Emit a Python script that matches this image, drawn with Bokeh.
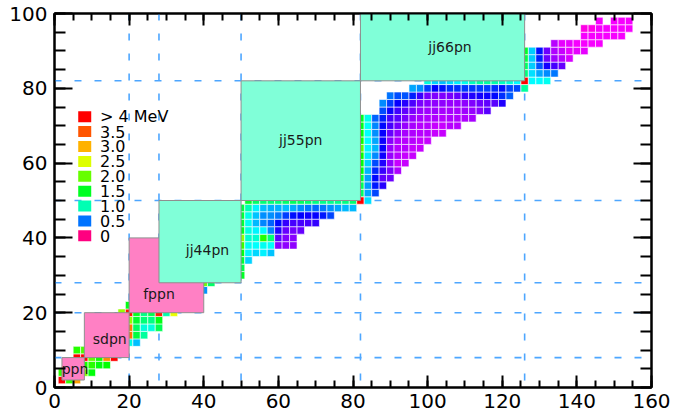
import colorsys
import numpy as np
from bokeh.plotting import figure
from bokeh.models import ColumnDataSource, LinearColorMapper, LinearAxis, Span, FixedTicker, Range1d
from bokeh.transform import transform
from bokeh.core.properties import value
from bokeh.embed import file_html
from bokeh.resources import INLINE

# ---------------- data ----------------
# rows of even-even nuclei: proton number, first neutron number (step 2), E(2+) in MeV
row_z = [2, 4, 6, 8, 10, 12, 14, 16, 18, 20, 22, 26, 28,
         30, 32, 34, 36, 38, 40, 42, 44, 46, 48, 50,
         52, 54, 56, 58, 60, 62, 64, 66, 68, 70, 72, 74, 76, 78, 80, 82,
         84, 86, 88, 90, 92, 94, 96, 98]
row_n_first = [2, 2, 4, 6, 6, 20, 20, 20, 20, 18, 20, 40, 40,
               50, 50, 50, 50, 50, 50, 50, 50, 50, 50, 52,
               82, 82, 82, 82, 82, 82, 82, 82, 82, 82, 82, 88, 88, 90, 96, 100,
               126, 126, 126, 126, 134, 142, 142, 146]
row_e2 = [
    [20.0, 1.80, 3.10],
    [1.80, 3.04, 3.37, 2.10, 1.59],
    [3.35, 4.44, 1.70, 1.77, 1.59, 1.62],
    [6.59, 6.92, 1.98, 1.67, 3.20, 4.70],
    [1.76, 1.89],
    [0.885, 0.66],
    [3.33, 1.40, 1.07],
    [3.29, 1.29, 0.90, 0.89, 1.33],
    [2.17, 1.46, 1.21, 1.16, 1.55],
    [2.21, 3.90, 1.52, 1.16, 1.35, 3.83, 1.03, 2.56],
    [1.55],
    [0.57],
    [2.03, 1.26],
    [1.49],
    [1.35],
    [1.45, 0.70],
    [1.56, 0.78, 0.71, 0.77, 0.67],
    [1.84, 0.83, 0.81, 0.84, 0.82, 0.14, 0.13, 0.13],
    [2.19, 0.93, 0.92, 1.75, 1.22, 0.21, 0.15, 0.14],
    [1.51, 0.87, 0.78, 0.79, 0.54, 0.30, 0.19, 0.17, 0.19],
    [1.43, 0.83, 0.65, 0.54, 0.48, 0.36, 0.27, 0.24, 0.24, 0.24, 0.27],
    [1.42, 0.86, 0.67, 0.56, 0.56, 0.51, 0.43, 0.37, 0.35, 0.33, 0.34, 0.38, 0.44],
    [1.39, 1.00, 0.78, 0.66, 0.63, 0.63, 0.66, 0.62, 0.56, 0.51, 0.49, 0.51, 0.57, 0.61, 0.65, 0.65],
    [1.47, 1.26, 1.21, 1.21, 1.21, 1.26, 1.30, 1.29, 1.23, 1.17, 1.14, 1.13, 1.14, 1.17, 1.22, 4.04, 0.73],
    [1.28, 0.61, 0.44],
    [1.31, 0.59, 0.38, 0.29],
    [1.44, 0.60, 0.36, 0.20, 0.18],
    [1.60, 0.64, 0.40, 0.26, 0.16, 0.097],
    [1.58, 0.70, 0.45, 0.30, 0.13, 0.073, 0.073],
    [1.66, 0.75, 0.55, 0.33, 0.12, 0.082, 0.076, 0.073],
    [1.97, 0.78, 0.64, 0.34, 0.12, 0.089, 0.080, 0.075, 0.072],
    [1.68, 0.80, 0.61, 0.33, 0.14, 0.099, 0.087, 0.081, 0.073, 0.077],
    [1.58, 0.81, 0.56, 0.34, 0.19, 0.13, 0.10, 0.091, 0.081, 0.080, 0.079, 0.077],
    [1.53, 0.82, 0.54, 0.36, 0.24, 0.17, 0.12, 0.10, 0.088, 0.084, 0.079, 0.076, 0.082, 0.084],
    [1.51, 0.86, 0.48, 0.39, 0.24, 0.21, 0.16, 0.12, 0.10, 0.095, 0.091, 0.088, 0.093, 0.093, 0.098, 0.107],
    [0.45, 0.33, 0.25, 0.20, 0.16, 0.12, 0.11, 0.11, 0.106, 0.10, 0.10, 0.11, 0.12, 0.14, 0.21],
    [0.55, 0.43, 0.34, 0.29, 0.23, 0.16, 0.14, 0.13, 0.13, 0.127, 0.12, 0.137, 0.155, 0.187, 0.206, 0.218, 0.30],
    [0.50, 0.45, 0.46, 0.39, 0.26, 0.17, 0.15, 0.15, 0.16, 0.19, 0.27, 0.30, 0.32, 0.33, 0.36, 0.41, 0.47],
    [0.61, 0.56, 0.43, 0.35, 0.37, 0.41, 0.41, 0.42, 0.42, 0.43, 0.43, 0.41, 0.37, 0.44, 0.44, 1.07],
    [0.89, 0.70, 0.66, 0.72, 0.77, 0.85, 0.97, 1.05, 1.06, 1.03, 0.96, 0.90, 0.80, 4.09, 0.80, 0.80, 0.84],
    [1.18, 0.73, 0.61, 0.55, 0.51],
    [1.27, 0.69, 0.46, 0.32, 0.24, 0.19],
    [1.38, 0.69, 0.39, 0.18, 0.11, 0.084, 0.068],
    [1.48, 0.69, 0.37, 0.18, 0.098, 0.072, 0.058, 0.053, 0.050],
    [0.081, 0.059, 0.052, 0.048, 0.043, 0.045, 0.045],
    [0.045, 0.044, 0.043, 0.045, 0.044, 0.046],
    [0.035, 0.038, 0.042, 0.043, 0.043, 0.043, 0.043],
    [0.040, None, 0.041, 0.043, 0.046],
]

# model spaces
box_names = ["ppn", "sdpn", "fppn", "jj44pn", "jj55pn", "jj66pn"]
box_n_lo = [2, 8, 20, 28, 50, 82]
box_n_hi = [8, 20, 40, 50, 82, 126]
box_z_lo = [2, 8, 20, 28, 50, 82]
box_z_hi = [8, 20, 40, 50, 82, 126]
box_kind = ["pink", "pink", "pink", "aqua", "aqua", "aqua"]

# magic-number guide lines
guide_n = [20, 28, 50, 82, 126]
guide_z = [8, 20, 28, 50, 82]

# colour key
key_values = [4.0, 3.5, 3.0, 2.5, 2.0, 1.5, 1.0, 0.5, 0.0]
key_labels = ["> 4 MeV", "3.5", "3.0", "2.5", "2.0", "1.5", "1.0", "0.5", "0"]

x_ticks = [0, 20, 40, 60, 80, 100, 120, 140, 160]
y_ticks = [0, 20, 40, 60, 80, 100]

# ---------------- colour scale ----------------
hue_v = [0, 0.04, 0.08, 0.15, 0.25, 0.35, 0.5, 0.75, 1.0, 1.5, 2.0, 2.5, 3.0, 3.5, 4.0]
hue_h = [330, 298, 283, 270, 255, 240, 213, 185, 162, 128, 96, 68, 42, 20, 0]


def hsv_hex(h):
    r, g, b = colorsys.hsv_to_rgb((h % 360) / 360.0, 1.0, 1.0)
    return "#%02x%02x%02x" % (int(round(r * 255)), int(round(g * 255)), int(round(b * 255)))


palette = [hsv_hex(np.interp(v, hue_v, hue_h)) for v in np.linspace(0, 4, 401)]
mapper = LinearColorMapper(palette=palette, low=0, high=4.0, high_color="#ff0000", low_color=palette[0])

cell_n, cell_z, cell_e = [], [], []
for z, n0, vals in zip(row_z, row_n_first, row_e2):
    for k, e in enumerate(vals):
        if e is not None:
            cell_n.append(n0 + 2 * k)
            cell_z.append(z)
            cell_e.append(e)

cells = ColumnDataSource(dict(n=cell_n, z=cell_z, e2=cell_e))

FONT = "DejaVu Sans"

p = figure(width=677, height=418, x_range=Range1d(0, 160), y_range=Range1d(0, 100),
           output_backend="svg", toolbar_location=None,
           min_border_left=54, min_border_right=26, min_border_top=13, min_border_bottom=31)
p.xgrid.visible = False
p.ygrid.visible = False
p.outline_line_color = "black"
p.outline_line_width = 2

for n in guide_n:
    p.add_layout(Span(location=n, dimension="height", line_color="#4da6ff", line_width=1.6,
                      line_dash="7 13", level="underlay"))
for z in guide_z:
    p.add_layout(Span(location=z, dimension="width", line_color="#4da6ff", line_width=1.6,
                      line_dash="7 13", level="underlay"))

p.rect(x="n", y="z", width=2, height=2, source=cells,
       fill_color=transform("e2", mapper), line_color="white", line_alpha=0.6, line_width=1)

box_fill = {"pink": "#ff80c4", "aqua": "#80ffd8"}
boxes = ColumnDataSource(dict(l=box_n_lo, r=box_n_hi, b=box_z_lo, t=box_z_hi,
                              c=[box_fill[k] for k in box_kind]))
p.quad(left="l", right="r", bottom="b", top="t", fill_color="c", source=boxes,
       line_color="#8f8f8f", line_width=1)

label_x = [5.5, 14.8, 28.0, 41.0, 66.0, 106.0]
label_y = [4.9, 12.9, 25.0, 36.8, 66.3, 91.0]
p.text(x=label_x, y=label_y, text=box_names, text_align="center", text_baseline="middle",
       text_font=value(FONT), text_font_size="14px", text_color="#1a1a1a")

key_src = ColumnDataSource(dict(v=key_values, lab=key_labels,
                                y=[72.4 - 3.98 * i for i in range(len(key_values))]))
p.rect(x=8.1, y="y", width=13, height=11, width_units="screen", height_units="screen",
       source=key_src, fill_color=transform("v", mapper), line_color=None)
p.text(x=12.2, y="y", text="lab", source=key_src, text_align="left", text_baseline="middle",
       text_font=value(FONT), text_font_size="16px", text_color="black")


def style(ax, ticks, minor, major_in, minor_in, labels=True):
    ax.ticker = FixedTicker(ticks=ticks, minor_ticks=minor)
    ax.axis_line_width = 2
    ax.axis_line_color = "black"
    ax.major_tick_in = major_in
    ax.major_tick_out = 0
    ax.minor_tick_in = minor_in
    ax.minor_tick_out = 0
    ax.major_tick_line_width = 2
    ax.minor_tick_line_width = 2
    ax.major_tick_line_color = "black"
    ax.minor_tick_line_color = "black"
    if labels:
        ax.major_label_text_font = FONT
        ax.major_label_text_font_size = "20px"
        ax.major_label_text_color = "black"
    else:
        ax.major_label_text_font_size = "1px"
        ax.major_label_text_color = None
        ax.major_label_text_alpha = 0
        ax.major_label_standoff = 0


x_minor = list(range(0, 161, 5))
y_minor = list(range(0, 101, 5))
style(p.xaxis[0], x_ticks, x_minor, 12, 7)
p.xaxis[0].major_label_standoff = 6
style(p.yaxis[0], y_ticks, y_minor, 18, 11)
p.yaxis[0].major_label_standoff = 7

top = LinearAxis()
style(top, x_ticks, x_minor, 12, 7, labels=False)
p.add_layout(top, "above")
right = LinearAxis()
style(right, y_ticks, y_minor, 18, 11, labels=False)
p.add_layout(right, "right")

open("out.html", "w").write(file_html(p, INLINE))
